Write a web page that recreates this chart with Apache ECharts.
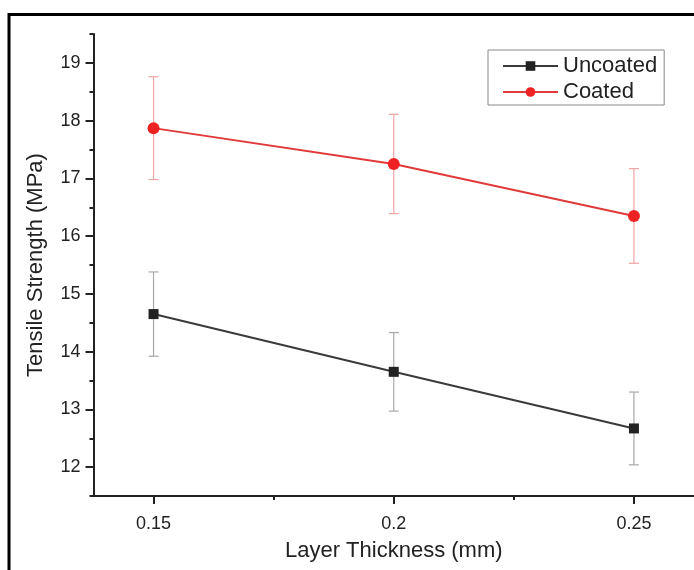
<!DOCTYPE html>
<html>
<head>
<meta charset="utf-8">
<script src="https://cdn.jsdelivr.net/npm/echarts@6/dist/echarts.min.js"></script>
<style>
html,body{margin:0;padding:0;background:#fff;}
#chart{width:694px;height:570px;}
</style>
</head>
<body>
<div id="chart"></div>
<script>
const xValues = [0.15, 0.2, 0.25];
const uncoated = [14.65, 13.65, 12.67];
const uncoatedErr = [0.73, 0.68, 0.63];
const coated = [17.87, 17.25, 16.35];
const coatedErr = [0.89, 0.86, 0.82];
const yMajorTicks = [12, 13, 14, 15, 16, 17, 18, 19];
const yMinorTicks = [11.5, 12.5, 13.5, 14.5, 15.5, 16.5, 17.5, 18.5, 19.5];
const xMajorTicks = [0.15, 0.2, 0.25];
const xMinorTicks = [0.175, 0.225];
const seriesNames = ['Uncoated', 'Coated'];

const FONT = 'Liberation Sans, Arial, sans-serif';

function pairs(vals) { return xValues.map((x, i) => [x, vals[i]]); }
function errData(vals, errs) { return xValues.map((x, i) => [x, vals[i] - errs[i], vals[i] + errs[i]]); }

function errRender(color) {
  return function (params, api) {
    const x = api.value(0), lo = api.value(1), hi = api.value(2);
    const pHi = api.coord([x, hi]);
    const pLo = api.coord([x, lo]);
    const w = 5;
    const st = { stroke: color, lineWidth: 1.2 };
    return {
      type: 'group',
      children: [
        { type: 'line', shape: { x1: pHi[0], y1: pHi[1], x2: pLo[0], y2: pLo[1] }, style: st },
        { type: 'line', shape: { x1: pHi[0] - w, y1: pHi[1], x2: pHi[0] + w, y2: pHi[1] }, style: st },
        { type: 'line', shape: { x1: pLo[0] - w, y1: pLo[1], x2: pLo[0] + w, y2: pLo[1] }, style: st }
      ]
    };
  };
}

const chart = echarts.init(document.getElementById('chart'), null, { renderer: 'canvas' });
const axisCommon = {
  type: 'value',
  splitLine: { show: false }
};
chart.setOption({
  animation: false,
  backgroundColor: '#fff',
  textStyle: { fontFamily: FONT },
  graphic: [{
    type: 'rect', z: 100,
    shape: { x: 9, y: 14.5, width: 700, height: 600 },
    style: { fill: 'none', stroke: '#000', lineWidth: 3 }
  }],
  grid: { left: 93.5, top: 34, width: 601.5, height: 462, containLabel: false },
  legend: {
    data: seriesNames,
    orient: 'vertical',
    left: 488, top: 50,
    padding: [4, 7, 1, 14],
    itemGap: 2,
    itemWidth: 55, itemHeight: 12,
    borderColor: '#888', borderWidth: 1,
    textStyle: { fontFamily: FONT, fontSize: 22, color: '#222', lineHeight: 24 }
  },
  xAxis: [
    Object.assign({}, axisCommon, {
      min: 0.1375, max: 0.2625,
      name: 'Layer Thickness (mm)', nameLocation: 'middle', nameGap: 44,
      nameTextStyle: { fontFamily: FONT, fontSize: 22, color: '#222' },
      axisLine: { show: true, lineStyle: { color: '#222', width: 2 } },
      axisTick: { show: true, customValues: xMajorTicks, length: 8, lineStyle: { color: '#222', width: 2 } },
      axisLabel: { show: true, customValues: xMajorTicks, margin: 19, fontSize: 18, color: '#222', fontFamily: FONT }
    }),
    Object.assign({}, axisCommon, {
      min: 0.1375, max: 0.2625, position: 'bottom',
      axisLine: { show: false },
      axisTick: { show: true, customValues: xMinorTicks, length: 4, lineStyle: { color: '#222', width: 2 } },
      axisLabel: { show: false }
    })
  ],
  yAxis: [
    Object.assign({}, axisCommon, {
      min: 11.5, max: 19.5,
      name: 'Tensile Strength (MPa)', nameLocation: 'middle', nameGap: 47,
      nameTextStyle: { fontFamily: FONT, fontSize: 22, color: '#222' },
      axisLine: { show: true, lineStyle: { color: '#222', width: 2 } },
      axisTick: { show: true, customValues: yMajorTicks, length: 8, lineStyle: { color: '#222', width: 2 } },
      axisLabel: { show: true, customValues: yMajorTicks, margin: 13, fontSize: 18, color: '#222', fontFamily: FONT }
    }),
    Object.assign({}, axisCommon, {
      min: 11.5, max: 19.5, position: 'left',
      axisLine: { show: false },
      axisTick: { show: true, customValues: yMinorTicks, length: 4, lineStyle: { color: '#222', width: 2 } },
      axisLabel: { show: false }
    })
  ],
  series: [
    {
      type: 'custom', name: 'errU', renderItem: errRender('#a8a8a8'),
      data: errData(uncoated, uncoatedErr), encode: { x: 0, y: [1, 2] }, z: 1, silent: true
    },
    {
      type: 'custom', name: 'errC', renderItem: errRender('#f0a4a4'),
      data: errData(coated, coatedErr), encode: { x: 0, y: [1, 2] }, z: 1, silent: true
    },
    {
      type: 'line', name: seriesNames[0], data: pairs(uncoated), z: 3,
      symbol: 'rect', symbolSize: 10,
      itemStyle: { color: '#222' },
      lineStyle: { color: '#3a3a3a', width: 2 }
    },
    {
      type: 'line', name: seriesNames[1], data: pairs(coated), z: 3,
      symbol: 'circle', symbolSize: 12,
      itemStyle: { color: '#ee2222' },
      lineStyle: { color: '#e03a3a', width: 2 }
    }
  ]
});
</script>
</body>
</html>
